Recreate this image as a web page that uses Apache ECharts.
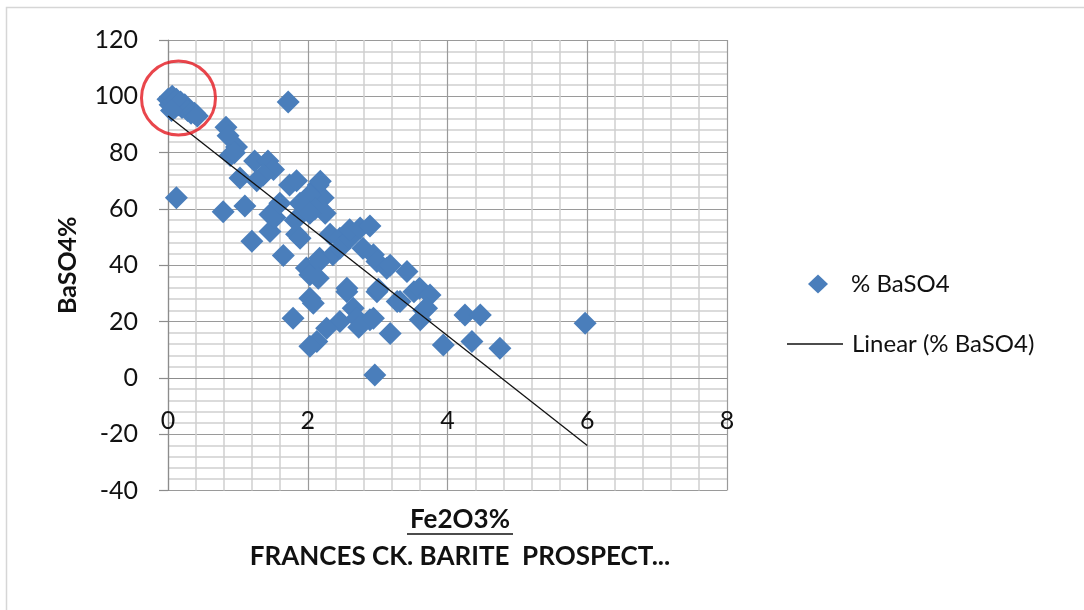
<!DOCTYPE html>
<html>
<head>
<meta charset="utf-8">
<script src="https://cdn.jsdelivr.net/npm/echarts@6/dist/echarts.min.js"></script>
<style>
html,body{margin:0;padding:0;background:#fff;}
#chart{width:1084px;height:610px;}
</style>
</head>
<body>
<div id="chart"></div>
<script>
// Fe2O3 % (x) and BaSO4 % (y) sample values
const fe2o3 = [
  0.00,0.03,0.06,0.08,0.10,0.12,0.15,0.18,0.20,0.24,0.28,0.33,0.38,0.42,0.05,
  1.72,0.83,0.86,0.98,0.89,0.95,1.03,1.24,1.43,1.51,1.36,1.27,0.12,0.79,1.10,
  1.20,1.46,1.53,1.46,1.65,1.74,1.84,2.15,2.22,2.03,2.18,1.60,1.89,1.82,2.10,
  2.25,2.03,1.84,1.89,1.98,2.17,2.32,2.36,2.46,2.46,2.60,2.60,2.75,2.89,2.79,
  2.94,2.99,3.13,3.18,3.42,2.03,2.17,2.56,2.99,3.01,3.32,3.52,3.60,3.75,3.70,
  3.66,3.61,2.03,2.08,2.15,2.65,2.56,1.79,2.46,2.70,2.89,2.94,2.27,2.13,2.03,
  3.18,2.96,3.28,4.25,4.47,3.94,4.35,4.75,5.97,2.73
];
const baso4 = [
  99,97,100,98,96,99,97,98,96,97,95,94,94,93,95,
  98,89,86,82,79,80,71,77,77,74,72,70,64,59,61,
  48.5,52,57,58,43.5,68.5,70,68.5,64,65,69.8,62,62,56,60,
  58.5,58.5,51,49.6,39,42.5,51,43.7,49.6,46,49.6,52.6,53.2,53.9,46,
  43.7,41.3,38.9,40,37.8,36.6,41.4,31.8,30.6,31.5,27.1,30.6,31.8,29.4,24.7,
  24,20.6,28.3,26.5,35.4,24.7,30.6,21.2,20,21.2,20.6,21.2,17.6,12.9,11.2,
  15.8,1,27.1,22.3,22.3,11.7,12.9,10.5,19.4,18
];
// linear trendline end points
const trendX = [0, 6];
const trendY = [93, -24];
// red highlight circle centre (data coordinates)
const highlightX = [0.15];
const highlightY = [99.4];

const xTicks = {min: 0, max: 8, interval: 2};
const yTicks = {min: -40, max: 120, interval: 20};

const FONT = 'Lato, "Open Sans", sans-serif';
const scatterData = fe2o3.map((x, i) => [x, baso4[i]]);
const trendData = trendX.map((x, i) => [x, trendY[i]]);
const hlData = highlightX.map((x, i) => [x, highlightY[i]]);

const GRID_TOP = 40, GRID_BOTTOM = 119.5;
const plotH = 610 - GRID_TOP - GRID_BOTTOM;
// x axis crosses the y axis at value 0
const xAxisOffset = -plotH * (0 - yTicks.min) / (yTicks.max - yTicks.min);

const chart = echarts.init(document.getElementById('chart'), null, {renderer: 'canvas'});
chart.setOption({
  animation: false,
  backgroundColor: '#fff',
  grid: {left: 168, right: 357, top: GRID_TOP, bottom: GRID_BOTTOM, containLabel: false},
  xAxis: {
    type: 'value', min: xTicks.min, max: xTicks.max, interval: xTicks.interval,
    position: 'bottom', offset: xAxisOffset,
    axisLine: {show: true, onZero: false, lineStyle: {color: '#8c8c8c', width: 1.2}},
    axisTick: {show: false},
    axisLabel: {margin: 31, fontFamily: FONT, fontSize: 25, color: '#111'},
    splitLine: {show: true, lineStyle: {color: '#9a9a9a', width: 1.2}},
    minorTick: {show: false, splitNumber: 5},
    minorSplitLine: {show: true, lineStyle: {color: '#d0d0d0', width: 1.5}}
  },
  yAxis: {
    type: 'value', min: yTicks.min, max: yTicks.max, interval: yTicks.interval,
    name: 'BaSO4%', nameLocation: 'middle', nameGap: 88, nameRotate: 90,
    nameTextStyle: {fontFamily: FONT, fontSize: 25, fontWeight: 'bold', color: '#111'},
    axisLine: {show: true, onZero: false, lineStyle: {color: '#8c8c8c', width: 1.2}},
    axisTick: {show: true, length: 9, lineStyle: {color: '#8c8c8c', width: 1.2}},
    axisLabel: {margin: 30, fontFamily: FONT, fontSize: 25, color: '#111'},
    splitLine: {show: true, lineStyle: {color: '#9a9a9a', width: 1.2}},
    minorTick: {show: false, splitNumber: 5},
    minorSplitLine: {show: true, lineStyle: {color: '#d0d0d0', width: 1.5}}
  },
  legend: [
    {
      data: [{name: '% BaSO4', icon: 'diamond'}],
      left: 803, top: 267, itemWidth: 20, itemHeight: 19, itemGap: 0,
      textStyle: {fontFamily: FONT, fontSize: 24, color: '#111', padding: [0, 0, 0, 18]},
      selectedMode: false
    },
    {
      data: [{name: 'Linear (% BaSO4)', icon: 'rect'}],
      left: 782, top: 327, itemWidth: 56, itemHeight: 1.5, itemGap: 0,
      textStyle: {fontFamily: FONT, fontSize: 24, color: '#111', padding: [0, 0, 0, 4]},
      selectedMode: false
    }
  ],
  graphic: [
    {type: 'polyline', shape: {points: [[6.5, 610], [6.5, 7.5], [1084, 7.5]]},
      style: {stroke: '#d6d6d6', lineWidth: 1.5, fill: null}, silent: true},
    {type: 'text', x: 460, y: 520, style: {text: 'Fe2O3%', font: 'bold 26px ' + FONT,
      fill: '#111', textAlign: 'center', textVerticalAlign: 'middle'}},
    {type: 'line', shape: {x1: 407, y1: 534, x2: 513, y2: 534},
      style: {stroke: '#111', lineWidth: 1.6}},
    {type: 'text', x: 460, y: 557, style: {text: 'FRANCES CK. BARITE  PROSPECT...',
      font: 'bold 26px ' + FONT, fill: '#111', textAlign: 'center', textVerticalAlign: 'middle'}}
  ],
  series: [
    {
      name: '% BaSO4', type: 'scatter', symbol: 'diamond', symbolSize: 23,
      data: scatterData,
      itemStyle: {color: '#4a7ebb', opacity: 1},
      z: 2
    },
    {
      name: 'Linear (% BaSO4)', type: 'line', data: trendData,
      showSymbol: false, symbol: 'none',
      lineStyle: {color: '#111', width: 1.3},
      itemStyle: {color: '#111'},
      z: 3
    },
    {
      name: 'highlight', type: 'scatter', symbol: 'circle', symbolSize: 74,
      data: hlData, silent: true,
      itemStyle: {color: 'rgba(0,0,0,0)', borderColor: '#e3181f', borderWidth: 3},
      z: 4
    }
  ]
});
</script>
</body>
</html>
